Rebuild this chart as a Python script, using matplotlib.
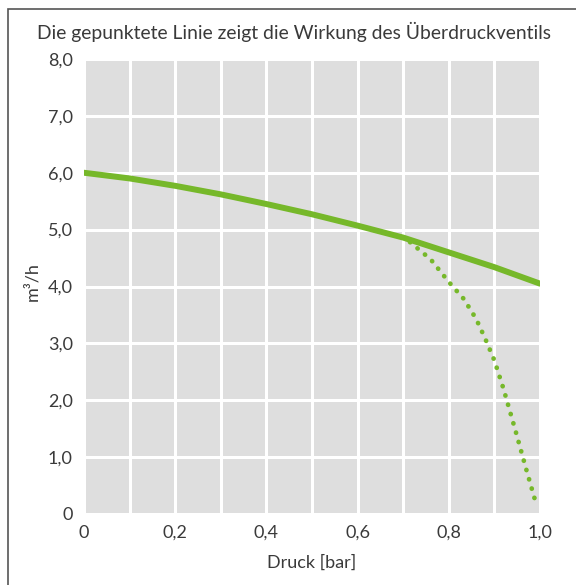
import matplotlib
matplotlib.use("Agg")
import matplotlib.pyplot as plt
from matplotlib.patches import Rectangle

# Kennlinie (Förderstrom über Druck)
druck = [0.0, 0.1, 0.2, 0.3, 0.4, 0.5, 0.6, 0.7, 0.8, 0.9, 1.0]
durchfluss = [6.0, 5.9, 5.77, 5.62, 5.45, 5.27, 5.07, 4.86, 4.6, 4.34, 4.05]

# Verlauf mit Überdruckventil
druck_ventil = [0.715, 0.76, 0.80, 0.833, 0.86, 0.88, 0.90, 0.92, 0.945, 0.97, 0.99]
durchfluss_ventil = [4.78, 4.48, 4.08, 3.78, 3.43, 3.08, 2.7, 2.2, 1.5, 0.78, 0.22]

x_ticks = [0, 0.2, 0.4, 0.6, 0.8, 1.0]
x_labels = ["0", "0,2", "0,4", "0,6", "0,8", "1,0"]
y_ticks = [0, 1, 2, 3, 4, 5, 6, 7, 8]
y_labels = ["0", "1,0", "2,0", "3,0", "4,0", "5,0", "6,0", "7,0", "8,0"]

plt.rcParams["font.family"] = ["Lato", "DejaVu Sans"]
gruen = "#76b82a"
text_farbe = "#3a3a3a"

fig = plt.figure(figsize=(5.76, 5.85), dpi=100)
ax = fig.add_axes([84 / 576, 1 - 514 / 585, 456 / 576, 455 / 585])
ax.set_facecolor("#dedede")

ax.set_xlim(0, 1.0)
ax.set_ylim(0, 8)
ax.set_xticks(x_ticks)
ax.set_xticklabels(x_labels)
ax.set_xticks([i / 10 for i in range(11)], minor=True)
ax.set_yticks(y_ticks)
ax.set_yticklabels(y_labels)
ax.grid(True, which="both", color="white", linewidth=2.2)
ax.set_axisbelow(True)
ax.tick_params(which="both", length=0, labelsize=13, colors=text_farbe, pad=8)
for s in ax.spines.values():
    s.set_visible(False)

ax.plot(druck, durchfluss, color=gruen, linewidth=4.3, solid_capstyle="round", zorder=3)
ax.plot(druck_ventil, durchfluss_ventil, color=gruen, linewidth=3.4,
        linestyle=(0, (0.05, 2.0)), dash_capstyle="round", zorder=3)

ax.set_xlabel("Druck [bar]", fontsize=13, color=text_farbe, labelpad=10)
ax.set_ylabel("m³/h", fontsize=13, color=text_farbe)
ax.yaxis.set_label_coords(-0.095, 0.51)
fig.text(294 / 576, 1 - 32 / 585, "Die gepunktete Linie zeigt die Wirkung des Überdruckventils",
         ha="center", va="center", fontsize=13.9, color=text_farbe)

# Rahmen um die Grafik
fig.patches.append(Rectangle((8 / 576, -0.1), 1.0, 1 - 9 / 585 + 0.1,
                             transform=fig.transFigure, fill=False,
                             edgecolor="#555555", linewidth=1.2))

fig.savefig("out.png", dpi=100)
